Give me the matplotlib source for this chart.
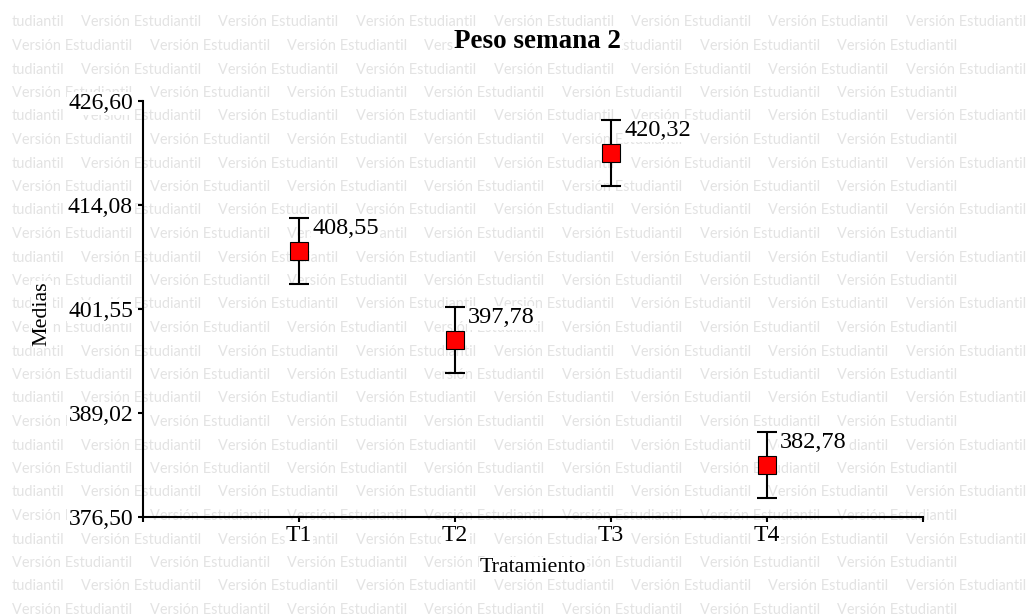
import matplotlib
matplotlib.use("Agg")
import matplotlib.pyplot as plt

# Treatment means with their standard errors
treatments = ["T1", "T2", "T3", "T4"]
means = [408.55, 397.78, 420.32, 382.78]
errors = [3.97, 3.97, 3.97, 3.97]
y_ticks = [376.50, 389.02, 401.55, 414.08, 426.60]

W, H, DPI = 1028, 615, 100
plt.rcParams["font.family"] = ["Liberation Serif", "DejaVu Serif"]

fig = plt.figure(figsize=(W / DPI, H / DPI), dpi=DPI)
fig.patch.set_facecolor("white")

# Repeated "Versión Estudiantil" background stamp
wm_text = "Versión Estudiantil"
probe = fig.text(0, 0, wm_text, fontsize=10, family="Lato")
renderer = fig.canvas.get_renderer()
wm_size = 10 * 120 / probe.get_window_extent(renderer).width
probe.remove()
wm_color = "#e3e3e3"
row_step, col_step = 23.5, 137.5
for i in range(26):
    base = 26.5 + i * row_step
    yy = 1 - base / H
    if i % 2 == 0:
        fig.text(12 / W, yy, "tudiantil", fontsize=wm_size, family="Lato",
                 color=wm_color, ha="left", va="baseline", zorder=-10)
        starts = [81 + k * col_step for k in range(7)]
    else:
        starts = [12 + k * col_step for k in range(7)]
    for xs in starts:
        fig.text(xs / W, yy, wm_text, fontsize=wm_size, family="Lato",
                 color=wm_color, ha="left", va="baseline", zorder=-10)

ax = fig.add_axes([143 / W, 98 / H, 780 / W, 416 / H])
ax.patch.set_visible(False)

x = list(range(1, len(treatments) + 1))
white_box = dict(boxstyle="square,pad=0.05", fc="white", ec="none")

ax.errorbar(x, means, yerr=errors, fmt="none", ecolor="black",
            elinewidth=1.5, capsize=7.2, capthick=1.5, zorder=3)
ax.plot(x, means, "s", ms=13, mfc="#ff0000", mec="black", mew=0.8, zorder=4)

for xi, m, e in zip(x, means, errors):
    ax.annotate(f"{m:.2f}".replace(".", ","), xy=(xi, m + e),
                xytext=(9.4, -11.5), textcoords="offset points",
                ha="left", va="baseline", fontsize=17.5, bbox=white_box,
                zorder=5)

ax.set_xlim(0, 5)
ax.set_ylim(y_ticks[0], y_ticks[-1])
ax.set_xticks(range(0, 6))
ax.set_xticklabels([""] + treatments + [""])
ax.set_yticks(y_ticks)
ax.set_yticklabels([f"{v:.2f}".replace(".", ",") for v in y_ticks])

for side in ("top", "right"):
    ax.spines[side].set_visible(False)
for side in ("left", "bottom"):
    ax.spines[side].set_linewidth(1.5)
    ax.spines[side].set_color("black")

ax.tick_params(axis="both", direction="out", length=3.6, width=1.5,
               labelsize=17, colors="black")
ax.tick_params(axis="y", pad=3.6)
ax.tick_params(axis="x", pad=2)
for lbl in ax.get_yticklabels() + ax.get_xticklabels():
    lbl.set_bbox(white_box)

ax.set_xlabel("Tratamiento", fontsize=15.8, bbox=white_box)
ax.xaxis.label.set_va("center")
ax.xaxis.set_label_coords(0.5, (517 - 568) / 416)

ax.set_ylabel("Medias", fontsize=15.8, bbox=white_box)
ax.yaxis.label.set_va("center")
ax.yaxis.set_label_coords((42 - 143) / 780, (517 - 314) / 416)

ax.text((537.5 - 143) / 780, (517 - 48) / 416, "Peso semana 2",
        transform=ax.transAxes, ha="center", va="baseline",
        fontsize=19.5, fontweight="bold", bbox=white_box)

fig.savefig("out.png", dpi=DPI, facecolor="white")
